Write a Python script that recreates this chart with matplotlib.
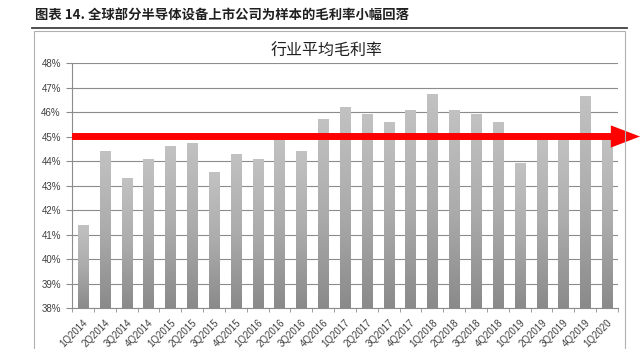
import numpy as np
import matplotlib.pyplot as plt
from matplotlib.patches import Rectangle
from matplotlib.lines import Line2D
from matplotlib.colors import LinearSegmentedColormap

plt.rcParams['font.family'] = ['Liberation Sans', 'Noto Sans CJK SC', 'DejaVu Sans']

# trimestres et marge brute moyenne (%)
quarters = ['1Q2014', '2Q2014', '3Q2014', '4Q2014',
            '1Q2015', '2Q2015', '3Q2015', '4Q2015',
            '1Q2016', '2Q2016', '3Q2016', '4Q2016',
            '1Q2017', '2Q2017', '3Q2017', '4Q2017',
            '1Q2018', '2Q2018', '3Q2018', '4Q2018',
            '1Q2019', '2Q2019', '3Q2019', '4Q2019',
            '1Q2020']
margin = [41.4, 44.4, 43.3, 44.1,
          44.6, 44.75, 43.55, 44.3,
          44.1, 44.9, 44.4, 45.7,
          46.2, 45.9, 45.6, 46.1,
          46.75, 46.1, 45.9, 45.6,
          43.9, 44.9, 44.9, 46.65,
          44.9]
ref_level = 45.0
y_ticks = list(range(38, 49))

fig = plt.figure(figsize=(6.4, 3.49), dpi=100)
ax = fig.add_axes([72 / 640, 1 - 308 / 349, 546 / 640, 245 / 349])

# barres avec degrade (clair en haut, fonce en bas)
bar_cmap = LinearSegmentedColormap.from_list('bar', ['#c2c2c2', '#acacac', '#8a8a8a'])
grad = np.linspace(0, 1, 256).reshape(-1, 1)
x = np.arange(len(quarters))
bw = 0.46
for xi, h in zip(x, margin):
    rect = Rectangle((xi - bw / 2, 38), bw, h - 38, facecolor='none',
                     edgecolor='none')
    ax.add_patch(rect)
    im = ax.imshow(grad, cmap=bar_cmap, vmin=0, vmax=1, aspect='auto',
                   extent=(xi - bw / 2, xi + bw / 2, 38, h), origin='upper',
                   zorder=2)
    im.set_clip_path(rect)

ax.set_xlim(-0.5, len(quarters) - 0.5)
ax.set_ylim(38, 48)
ax.set_yticks(y_ticks)
ax.set_yticklabels([f'{t}%' for t in y_ticks])
ax.yaxis.grid(True, color='#8c8c8c', linewidth=0.8)
ax.set_axisbelow(True)

ax.set_xticks(x)
ax.set_xticklabels(quarters, rotation=45, ha='right', rotation_mode='anchor')
ax.set_xticks(np.arange(-0.5, len(quarters)), minor=True)
ax.tick_params(axis='x', which='major', length=0, pad=7,
               labelsize=7, labelcolor='#404040')
ax.tick_params(axis='x', which='minor', length=3, color='#8c8c8c')
ax.tick_params(axis='y', length=4, color='#8c8c8c', labelsize=7,
               labelcolor='#404040', pad=4)

for s in ['top', 'right']:
    ax.spines[s].set_visible(False)
for s in ['left', 'bottom']:
    ax.spines[s].set_color('#8c8c8c')
    ax.spines[s].set_linewidth(0.8)

# fleche rouge a 45%
ax.annotate('', xy=(1.0, ref_level), xytext=(72 / 640, ref_level),
            xycoords=('figure fraction', 'data'),
            textcoords=('figure fraction', 'data'),
            arrowprops=dict(arrowstyle='simple,head_length=2.1,head_width=1.6,tail_width=0.5',
                            mutation_scale=10, color='#ff0000', lw=0,
                            shrinkA=0, shrinkB=0),
            annotation_clip=False, zorder=5)

# cadre et titres
fig.add_artist(Rectangle((34 / 640, -0.05), 591 / 640, 1 - 31 / 349 + 0.05,
                         transform=fig.transFigure, fill=False,
                         edgecolor='#b0b0b0', linewidth=0.8))
fig.add_artist(Line2D([32 / 640, 627 / 640], [1 - 28 / 349] * 2,
                      transform=fig.transFigure, color='#404040', linewidth=1.3))
fig.text(35 / 640, 1 - 16 / 349, '图表 14. 全球部分半导体设备上市公司为样本的毛利率小幅回落',
         fontsize=9.6, fontweight='bold', color='#202020', va='center', ha='left',
         family=['Noto Sans CJK SC', 'DejaVu Sans'])
fig.text(327 / 640, 1 - 51 / 349, '行业平均毛利率', fontsize=11.5, color='#202020',
         va='center', ha='center', family=['Noto Sans CJK SC', 'DejaVu Sans'])

fig.savefig('out.png', dpi=100)
